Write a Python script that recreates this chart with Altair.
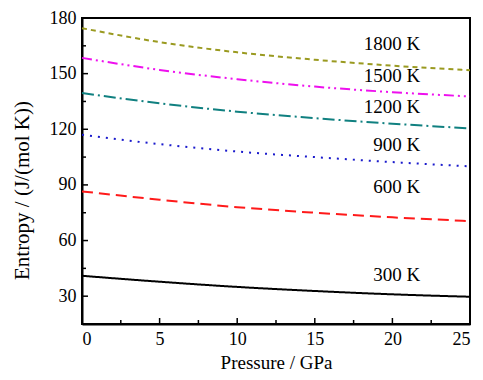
import altair as alt
import pandas as pd

pressure = [0, 5, 10, 15, 20, 25]
s300 = [41.0, 37.8, 35.0, 32.8, 31.0, 29.7]
s600 = [86.5, 82.0, 78.0, 75.0, 72.5, 70.5]
s900 = [117.0, 112.0, 108.0, 105.0, 102.3, 100.0]
s1200 = [139.5, 134.0, 129.5, 126.0, 123.0, 120.5]
s1500 = [158.5, 152.0, 147.0, 143.0, 140.0, 137.7]
s1800 = [174.5, 167.0, 161.5, 157.5, 154.3, 151.8]

series_names = ["300 K", "600 K", "900 K", "1200 K", "1500 K", "1800 K"]
series_vals = [s300, s600, s900, s1200, s1500, s1800]
colors = ["#000000", "#ff1a1a", "#1a1acc", "#108080", "#ee10ee", "#9a9a20"]
dashes = [[1, 0], [11, 6], [2, 6], [12, 4, 2, 4], [10, 4, 2, 4, 2, 4], [5, 4]]

label_x = [21.8] * 6
label_y = [41.5, 89.0, 111.5, 132.0, 148.5, 166.0]

x_major = [0, 5, 10, 15, 20, 25]
x_minor = [2.5, 7.5, 12.5, 17.5, 22.5]
y_major = [30, 60, 90, 120, 150, 180]
y_minor = [45, 75, 105, 135, 165]

rows = []
for name, vals in zip(series_names, series_vals):
    for p, v in zip(pressure, vals):
        rows.append({"P": p, "S": v, "T": name})
df = pd.DataFrame(rows)
lab = pd.DataFrame({"P": label_x, "S": label_y, "T": series_names})

W, H = 388, 306
FONT = "Liberation Serif"

xs = alt.Scale(domain=[0, 25], nice=False, zero=False)
ys = alt.Scale(domain=[15, 180], nice=False, zero=False)

lines = alt.Chart(df).mark_line(interpolate="monotone", strokeWidth=2).encode(
    x=alt.X("P:Q", scale=xs, title="Pressure / GPa",
            axis=alt.Axis(values=x_major, format="d")),
    y=alt.Y("S:Q", scale=ys, title="Entropy / (J/(mol K))",
            axis=alt.Axis(values=y_major, format="d")),
    color=alt.Color("T:N", scale=alt.Scale(domain=series_names, range=colors), legend=None),
    strokeDash=alt.StrokeDash("T:N", scale=alt.Scale(domain=series_names, range=dashes), legend=None),
)

labels = alt.Chart(lab).mark_text(align="right", baseline="middle", font=FONT,
                                  fontSize=19, color="black").encode(
    x=alt.X("P:Q", scale=xs), y=alt.Y("S:Q", scale=ys), text="T:N")

xt_major = alt.Chart(pd.DataFrame({"v": x_major})).mark_rule(color="black", strokeWidth=1.5).encode(
    x=alt.X("v:Q", scale=xs), y=alt.value(H), y2=alt.value(H - 6))
xt_minor = alt.Chart(pd.DataFrame({"v": x_minor})).mark_rule(color="black", strokeWidth=1.5).encode(
    x=alt.X("v:Q", scale=xs), y=alt.value(H), y2=alt.value(H - 4))
yt_major = alt.Chart(pd.DataFrame({"v": y_major})).mark_rule(color="black", strokeWidth=1.5).encode(
    y=alt.Y("v:Q", scale=ys), x=alt.value(0), x2=alt.value(6))
yt_minor = alt.Chart(pd.DataFrame({"v": y_minor})).mark_rule(color="black", strokeWidth=1.5).encode(
    y=alt.Y("v:Q", scale=ys), x=alt.value(0), x2=alt.value(4))

chart = alt.layer(lines, labels, xt_major, xt_minor, yt_major, yt_minor).properties(
    width=W, height=H,
    autosize=alt.AutoSizeParams(type="none"),
    padding={"left": 74, "top": 10, "right": 5, "bottom": 48},
).configure_view(
    stroke="black", strokeWidth=2
).configure_axis(
    grid=False, ticks=False, domainColor="black", domainWidth=2,
    labelFont=FONT, labelFontSize=18, labelColor="black",
    titleFont=FONT, titleColor="black", titleFontWeight="normal",
    labelPadding=6,
).configure_axisX(
    titleFontSize=19, titleY=38, titleBaseline="middle", titleX=194, titleAlign="center"
).configure_axisY(
    titleFontSize=21, titleX=-60, titleY=172, titleAngle=270, titleAlign="center",
    titleBaseline="middle"
)

chart.save("out.html", embed_options={"renderer": "svg", "actions": False})
